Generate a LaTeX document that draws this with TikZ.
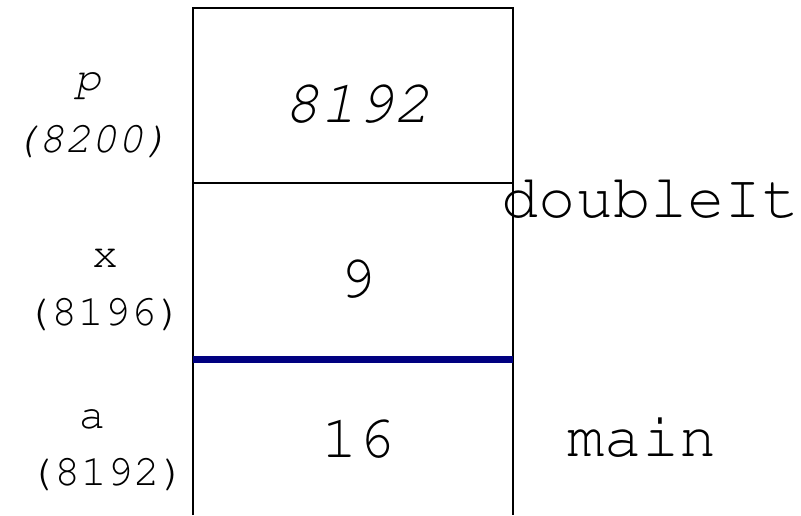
\documentclass[tikz,border=0pt]{standalone}
\usepackage[T1]{fontenc}
\usetikzlibrary{positioning}

\definecolor{framenavy}{HTML}{000080}
\newcommand{\cour}{\fontencoding{T1}\fontfamily{pcr}\fontseries{m}\selectfont}

\tikzset{
  lbl/.style={anchor=base,inner sep=0pt,font=\fontsize{44}{50}\cour},
  val/.style={anchor=base,inner sep=0pt,font=\fontsize{61}{68}\cour},
  fname/.style={inner sep=0pt,font=\fontsize{62}{70}\cour},
}

\begin{document}
\begin{tikzpicture}[x=1pt, y=-1pt, line width=1.5pt, line cap=butt, line join=miter]

  %% ==== stack slots ====
  \coordinate (tl) at (193,8);
  \coordinate (tr) at (513,8);
  \coordinate (bl) at (193,515);
  \coordinate (br) at (513,515);
  \coordinate (m1l) at (193,183);
  \coordinate (m1r) at (513,183);
  \coordinate (m2l) at (193,359);
  \coordinate (m2r) at (513,359);

  \draw (bl) -- (tl) -- (tr) -- (br);
  \draw (m1l) -- (m1r);
  %% frame boundary between doubleIt and main
  \draw[line width=7pt, framenavy] (m2l) -- (m2r);

  %% ==== names and addresses ====
  \node[lbl] (pname) at (88,91) {\textit{p}};
  \node[lbl] (paddr) at (91,152) {\textit{(8200)}};
  \node[lbl] (xname) at (105,267) {x};
  \node[lbl] (xaddr) at (104,325) {(8196)};
  \node[lbl] (aname) at (92,428) {a};
  \node[lbl] (aaddr) at (107,485) {(8192)};

  %% ==== values ====
  \node[val] (pval) at (357,122) {\textit{8192}};
  \node[val] (xval) at (358,297) {9};
  \node[val] (aval) at (358,457) {16};

  %% ==== frame names ====
  \node[fname, anchor=base west] (dbl) at (501,217) {doubleIt};
  \node[fname, anchor=base] (mainf) at (642,456) {main};

  \pgfresetboundingbox
  \path[use as bounding box] (0,0) rectangle (801,515);
\end{tikzpicture}
\end{document}
